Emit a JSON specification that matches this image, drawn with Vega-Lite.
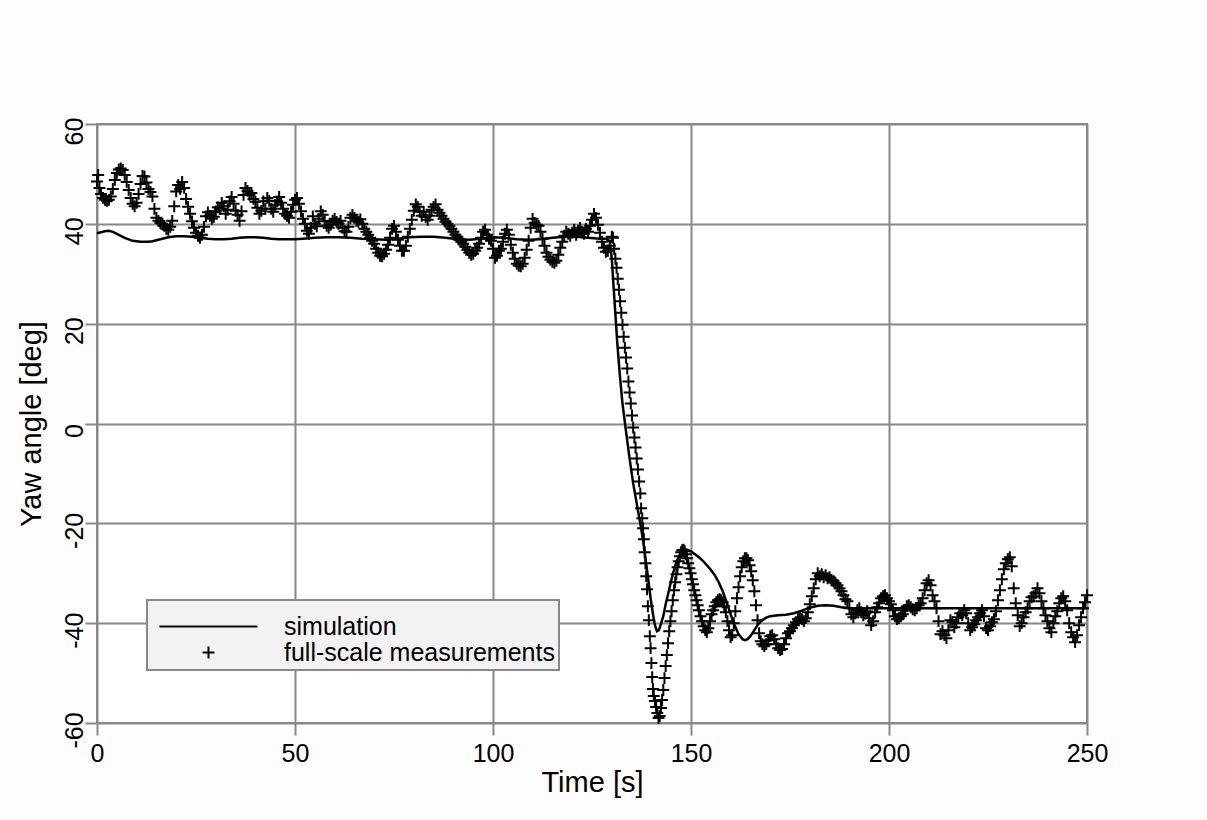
{
"$schema": "https://vega.github.io/schema/vega-lite/v6.json",
"width": 990, "height": 599,
"autosize": {"type": "none"},
"padding": {"left": 97, "top": 124, "right": 120, "bottom": 97},
"background": "#fdfdfd",
"config": {
 "view": {"fill": "white", "stroke": "#888", "strokeWidth": 2},
 "font": "Liberation Sans",
 "axis": {"grid": true, "gridColor": "#888", "gridWidth": 2, "gridOpacity": 1, "domain": false, "tickColor": "#888", "tickWidth": 2, "tickSize": 12, "labelFont": "Liberation Sans", "labelFontSize": 25, "labelColor": "black", "titleFont": "Liberation Sans", "titleFontSize": 29, "titleFontWeight": "normal", "titleColor": "black", "labelOverlap": false, "labelFlush": false, "labelExpr": "toString(datum.value)"},
 "legend": {"strokeWidth": 2}
},
"datasets": {
"sim": [
{"t":0,"v":38.1},{"t":1,"v":38.3},{"t":2,"v":38.5},{"t":3,"v":38.6},{"t":4,"v":38.4},{"t":5,"v":38.0},{"t":6,"v":37.6},{"t":7,"v":37.2},{"t":8,"v":36.9},{"t":9,"v":36.6},{"t":10,"v":36.5},{"t":11,"v":36.4},{"t":12,"v":36.4},{"t":13,"v":36.4},{"t":14,"v":36.5},{"t":15,"v":36.7},{"t":16,"v":36.9},{"t":17,"v":37.1},{"t":18,"v":37.3},{"t":19,"v":37.4},{"t":20,"v":37.5},{"t":22,"v":37.5},{"t":24,"v":37.4},{"t":26,"v":37.2},{"t":28,"v":37.0},{"t":30,"v":36.9},{"t":32,"v":36.9},{"t":34,"v":37.0},{"t":36,"v":37.2},{"t":38,"v":37.3},{"t":40,"v":37.3},{"t":42,"v":37.2},{"t":44,"v":37.0},{"t":46,"v":36.9},{"t":48,"v":36.9},{"t":50,"v":36.9},{"t":52,"v":37.0},{"t":55,"v":37.2},{"t":58,"v":37.3},{"t":61,"v":37.3},{"t":64,"v":37.2},{"t":67,"v":37.0},{"t":70,"v":36.9},{"t":73,"v":36.8},{"t":76,"v":37.0},{"t":79,"v":37.3},{"t":82,"v":37.4},{"t":85,"v":37.4},{"t":88,"v":37.2},{"t":91,"v":36.9},{"t":94,"v":36.8},{"t":97,"v":37.0},{"t":100,"v":37.3},{"t":103,"v":37.2},{"t":106,"v":36.9},{"t":109,"v":36.8},{"t":112,"v":36.9},{"t":115,"v":37.2},{"t":118,"v":37.4},{"t":121,"v":37.4},{"t":124,"v":37.2},{"t":127,"v":37.0},{"t":128.5,"v":37.0},{"t":129.5,"v":36.5},{"t":130.0,"v":33},{"t":130.4,"v":28},{"t":130.9,"v":22},{"t":131.4,"v":16},{"t":132.0,"v":10},{"t":132.7,"v":4},{"t":133.5,"v":-1},{"t":134.4,"v":-6.5},{"t":135.4,"v":-12},{"t":136.4,"v":-16.5},{"t":137.3,"v":-20.5},{"t":138.0,"v":-24},{"t":138.6,"v":-27.6},{"t":139.2,"v":-31.2},{"t":139.8,"v":-35},{"t":140.4,"v":-38.2},{"t":140.9,"v":-40.4},{"t":141.4,"v":-41.6},{"t":141.9,"v":-41.4},{"t":142.4,"v":-40.2},{"t":143.0,"v":-38.6},{"t":143.6,"v":-36.2},{"t":144.3,"v":-33.9},{"t":144.9,"v":-31.8},{"t":145.5,"v":-29.9},{"t":146.3,"v":-27.8},{"t":147.2,"v":-26.2},{"t":148.1,"v":-25.5},{"t":149.0,"v":-25.3},{"t":150.0,"v":-25.6},{"t":151.0,"v":-26.2},{"t":152.0,"v":-26.8},{"t":153.0,"v":-27.5},{"t":154.0,"v":-28.4},{"t":155.0,"v":-29.3},{"t":156.0,"v":-30.4},{"t":157.0,"v":-31.8},{"t":158.0,"v":-33.6},{"t":159.0,"v":-35.8},{"t":160.0,"v":-38.2},{"t":161.0,"v":-40.4},{"t":162.0,"v":-42.2},{"t":163.0,"v":-43.2},{"t":163.6,"v":-43.4},{"t":164.3,"v":-43.2},{"t":165.0,"v":-42.6},{"t":166.0,"v":-41.4},{"t":167.0,"v":-40.2},{"t":168.0,"v":-39.4},{"t":169.0,"v":-38.9},{"t":170.0,"v":-38.6},{"t":172.0,"v":-38.4},{"t":174.0,"v":-38.3},{"t":176.0,"v":-38.0},{"t":178.0,"v":-37.5},{"t":180.0,"v":-36.9},{"t":182.0,"v":-36.5},{"t":184.0,"v":-36.4},{"t":186.0,"v":-36.5},{"t":188.0,"v":-36.8},{"t":190.0,"v":-37.0},{"t":195.0,"v":-37.0},{"t":200.0,"v":-37.0},{"t":250.0,"v":-37.0}
],
"meas": [
{"t":0,"v":48.5},{"t":0.3,"v":49.8},{"t":0.6,"v":47.2},{"t":1.0,"v":46.0},{"t":1.5,"v":45.2},{"t":2.0,"v":44.8},{"t":2.5,"v":44.6},{"t":3.0,"v":44.8},{"t":3.5,"v":45.5},{"t":4.0,"v":47.0},{"t":4.5,"v":48.8},{"t":5.0,"v":50.2},{"t":5.5,"v":50.9},{"t":6.0,"v":51.1},{"t":6.5,"v":50.8},{"t":7.0,"v":49.8},{"t":7.5,"v":48.4},{"t":8.0,"v":46.8},{"t":8.5,"v":45.2},{"t":9.0,"v":44.0},{"t":9.5,"v":43.5},{"t":10.0,"v":44.2},{"t":10.5,"v":46.0},{"t":11.0,"v":48.0},{"t":11.5,"v":49.6},{"t":12.0,"v":49.5},{"t":12.5,"v":48.3},{"t":13.0,"v":47.0},{"t":13.5,"v":46.4},{"t":14.0,"v":45.5},{"t":14.5,"v":43.0},{"t":15.0,"v":41.2},{"t":15.5,"v":40.6},{"t":16.0,"v":40.2},{"t":16.5,"v":40.0},{"t":17.0,"v":39.6},{"t":17.5,"v":39.0},{"t":18.0,"v":38.8},{"t":18.5,"v":39.4},{"t":19.0,"v":40.6},{"t":19.5,"v":43.5},{"t":20.0,"v":46.5},{"t":20.5,"v":47.8},{"t":21.0,"v":47.0},{"t":21.5,"v":48.4},{"t":22.0,"v":47.2},{"t":22.5,"v":45.0},{"t":23.0,"v":43.4},{"t":23.5,"v":42.0},{"t":24.0,"v":40.5},{"t":24.5,"v":39.2},{"t":25.0,"v":38.2},{"t":25.5,"v":37.6},{"t":26.0,"v":37.2},{"t":26.5,"v":37.8},{"t":27.0,"v":39.4},{"t":27.5,"v":41.5},{"t":28.0,"v":42.3},{"t":28.5,"v":41.6},{"t":29.0,"v":41.0},{"t":29.5,"v":41.4},{"t":30.0,"v":42.5},{"t":30.5,"v":43.3},{"t":31.0,"v":43.0},{"t":31.5,"v":44.2},{"t":32.0,"v":43.5},{"t":32.5,"v":42.0},{"t":33.0,"v":42.8},{"t":33.5,"v":44.5},{"t":34.0,"v":45.4},{"t":34.5,"v":44.0},{"t":35.0,"v":42.6},{"t":35.5,"v":41.8},{"t":36.0,"v":40.6},{"t":36.5,"v":42.5},{"t":37.0,"v":45.8},{"t":37.5,"v":47.2},{"t":38.0,"v":46.6},{"t":38.5,"v":45.8},{"t":39.0,"v":46.2},{"t":39.5,"v":45.0},{"t":40.0,"v":44.4},{"t":40.5,"v":43.2},{"t":41.0,"v":42.0},{"t":41.5,"v":42.6},{"t":42.0,"v":44.5},{"t":42.5,"v":43.0},{"t":43.0,"v":45.2},{"t":43.5,"v":44.6},{"t":44.0,"v":43.0},{"t":44.5,"v":42.4},{"t":45.0,"v":43.8},{"t":45.5,"v":44.5},{"t":46.0,"v":45.4},{"t":46.5,"v":44.2},{"t":47.0,"v":43.0},{"t":47.5,"v":42.0},{"t":48.0,"v":41.6},{"t":48.5,"v":41.2},{"t":49.0,"v":42.4},{"t":49.5,"v":43.8},{"t":50.0,"v":44.8},{"t":50.5,"v":45.2},{"t":51.0,"v":44.0},{"t":51.5,"v":42.5},{"t":52.0,"v":41.0},{"t":52.5,"v":40.0},{"t":53.0,"v":38.6},{"t":53.5,"v":38.0},{"t":54.0,"v":39.2},{"t":54.5,"v":41.5},{"t":55.0,"v":40.0},{"t":55.5,"v":39.5},{"t":56.0,"v":41.0},{"t":56.5,"v":42.5},{"t":57.0,"v":41.8},{"t":57.5,"v":40.5},{"t":58.0,"v":39.6},{"t":58.5,"v":39.2},{"t":59.0,"v":39.8},{"t":59.5,"v":40.6},{"t":60.0,"v":41.0},{"t":60.5,"v":40.4},{"t":61.0,"v":40.0},{"t":61.5,"v":40.6},{"t":62.0,"v":39.2},{"t":62.5,"v":38.5},{"t":63.0,"v":38.4},{"t":63.5,"v":39.4},{"t":64.0,"v":41.2},{"t":64.5,"v":41.8},{"t":65.0,"v":41.2},{"t":65.5,"v":40.6},{"t":66.0,"v":40.4},{"t":66.5,"v":40.9},{"t":67.0,"v":40.0},{"t":67.5,"v":39.0},{"t":68.0,"v":38.4},{"t":68.5,"v":37.8},{"t":69.0,"v":37.2},{"t":69.5,"v":36.6},{"t":70.0,"v":36.0},{"t":70.5,"v":35.0},{"t":71.0,"v":34.2},{"t":71.5,"v":33.6},{"t":72.0,"v":33.5},{"t":72.5,"v":34.0},{"t":73.0,"v":34.8},{"t":73.5,"v":35.8},{"t":74.0,"v":37.2},{"t":74.5,"v":39.0},{"t":75.0,"v":39.6},{"t":75.5,"v":38.4},{"t":76.0,"v":36.8},{"t":76.5,"v":35.6},{"t":77.0,"v":34.6},{"t":77.5,"v":34.6},{"t":78.0,"v":35.6},{"t":78.5,"v":37.4},{"t":79.0,"v":39.0},{"t":79.5,"v":40.8},{"t":80.0,"v":42.6},{"t":80.5,"v":43.9},{"t":81.0,"v":43.4},{"t":81.5,"v":42.4},{"t":82.0,"v":41.6},{"t":82.5,"v":42.4},{"t":83.0,"v":41.4},{"t":83.5,"v":40.8},{"t":84.0,"v":41.6},{"t":84.5,"v":42.8},{"t":85.0,"v":43.4},{"t":85.5,"v":43.9},{"t":86.0,"v":42.8},{"t":86.5,"v":42.2},{"t":87.0,"v":41.6},{"t":87.5,"v":41.0},{"t":88.0,"v":40.4},{"t":88.5,"v":40.0},{"t":89.0,"v":39.6},{"t":89.5,"v":39.0},{"t":90.0,"v":38.4},{"t":90.5,"v":37.8},{"t":91.0,"v":37.4},{"t":91.5,"v":36.8},{"t":92.0,"v":36.4},{"t":92.5,"v":36.0},{"t":93.0,"v":35.4},{"t":93.5,"v":34.8},{"t":94.0,"v":34.2},{"t":94.5,"v":33.8},{"t":95.0,"v":34.0},{"t":95.5,"v":34.6},{"t":96.0,"v":35.2},{"t":96.5,"v":36.0},{"t":97.0,"v":37.2},{"t":97.5,"v":38.4},{"t":98.0,"v":38.8},{"t":98.5,"v":37.8},{"t":99.0,"v":37.0},{"t":99.5,"v":36.6},{"t":100.0,"v":35.0},{"t":100.5,"v":33.2},{"t":101.0,"v":33.6},{"t":101.5,"v":34.6},{"t":102.0,"v":35.0},{"t":102.5,"v":36.4},{"t":103.0,"v":38.0},{"t":103.5,"v":38.8},{"t":104.0,"v":37.8},{"t":104.5,"v":35.8},{"t":105.0,"v":34.2},{"t":105.5,"v":33.0},{"t":106.0,"v":32.0},{"t":106.5,"v":31.6},{"t":107.0,"v":31.5},{"t":107.5,"v":32.0},{"t":108.0,"v":33.2},{"t":108.5,"v":34.8},{"t":109.0,"v":36.6},{"t":109.5,"v":39.2},{"t":110.0,"v":41.0},{"t":110.5,"v":40.2},{"t":111.0,"v":39.8},{"t":111.5,"v":39.6},{"t":112.0,"v":38.4},{"t":112.5,"v":37.0},{"t":113.0,"v":35.6},{"t":113.5,"v":34.2},{"t":114.0,"v":33.4},{"t":114.5,"v":32.8},{"t":115.0,"v":32.4},{"t":115.5,"v":32.2},{"t":116.0,"v":32.6},{"t":116.5,"v":33.8},{"t":117.0,"v":35.2},{"t":117.5,"v":36.4},{"t":118.0,"v":37.6},{"t":118.5,"v":38.4},{"t":119.0,"v":38.0},{"t":119.5,"v":37.6},{"t":120.0,"v":38.2},{"t":120.5,"v":38.8},{"t":121.0,"v":37.8},{"t":121.5,"v":38.6},{"t":122.0,"v":39.2},{"t":122.5,"v":38.4},{"t":123.0,"v":38.0},{"t":123.5,"v":39.0},{"t":124.0,"v":38.4},{"t":124.5,"v":39.6},{"t":125.0,"v":40.8},{"t":125.5,"v":42.0},{"t":126.0,"v":41.2},{"t":126.5,"v":39.8},{"t":127.0,"v":38.2},{"t":127.5,"v":36.4},{"t":128.0,"v":35.2},{"t":128.5,"v":34.4},{"t":129.0,"v":34.6},{"t":129.5,"v":35.6},{"t":130.0,"v":37.4},{"t":130.3,"v":37.2},{"t":130.6,"v":35.0},{"t":130.9,"v":33.0},{"t":131.2,"v":31.2},{"t":131.5,"v":29.0},{"t":131.8,"v":26.8},{"t":132.1,"v":24.5},{"t":132.4,"v":22.2},{"t":132.7,"v":19.8},{"t":133.0,"v":17.4},{"t":133.3,"v":15.2},{"t":133.6,"v":13.2},{"t":133.9,"v":11.0},{"t":134.2,"v":8.4},{"t":134.5,"v":6.2},{"t":134.8,"v":4.0},{"t":135.1,"v":1.6},{"t":135.4,"v":-0.8},{"t":135.7,"v":-2.8},{"t":136.0,"v":-4.8},{"t":136.3,"v":-7.0},{"t":136.6,"v":-9.2},{"t":136.9,"v":-11.6},{"t":137.2,"v":-14.0},{"t":137.4,"v":-17.0},{"t":137.7,"v":-19.0},{"t":137.9,"v":-21.0},{"t":138.1,"v":-23.2},{"t":138.3,"v":-25.8},{"t":138.5,"v":-28.0},{"t":138.7,"v":-30.6},{"t":138.9,"v":-33.2},{"t":139.1,"v":-36.6},{"t":139.35,"v":-39.4},{"t":139.6,"v":-42.6},{"t":139.8,"v":-45.0},{"t":140.0,"v":-48.0},{"t":140.2,"v":-50.8},{"t":140.4,"v":-53.2},{"t":140.6,"v":-54.6},{"t":140.9,"v":-55.6},{"t":141.2,"v":-56.8},{"t":141.5,"v":-58.0},{"t":141.8,"v":-59.0},{"t":142.1,"v":-58.6},{"t":142.4,"v":-57.0},{"t":142.7,"v":-55.4},{"t":143.0,"v":-53.4},{"t":143.3,"v":-51.0},{"t":143.6,"v":-48.6},{"t":143.9,"v":-46.4},{"t":144.2,"v":-44.0},{"t":144.5,"v":-41.6},{"t":144.8,"v":-39.6},{"t":145.1,"v":-37.6},{"t":145.4,"v":-35.4},{"t":145.7,"v":-33.4},{"t":146.0,"v":-31.8},{"t":146.3,"v":-30.2},{"t":146.6,"v":-28.8},{"t":146.9,"v":-27.6},{"t":147.2,"v":-26.6},{"t":147.5,"v":-25.8},{"t":147.8,"v":-25.4},{"t":148.1,"v":-25.3},{"t":148.4,"v":-25.6},{"t":148.7,"v":-26.2},{"t":149.0,"v":-27.0},{"t":149.3,"v":-28.0},{"t":149.6,"v":-29.0},{"t":149.9,"v":-30.0},{"t":150.2,"v":-31.2},{"t":150.5,"v":-32.2},{"t":150.8,"v":-33.4},{"t":151.1,"v":-34.4},{"t":151.4,"v":-35.4},{"t":151.7,"v":-36.4},{"t":152.0,"v":-37.4},{"t":152.4,"v":-38.6},{"t":152.8,"v":-39.6},{"t":153.2,"v":-40.6},{"t":153.6,"v":-41.4},{"t":154.0,"v":-41.8},{"t":154.4,"v":-41.0},{"t":154.8,"v":-39.6},{"t":155.2,"v":-38.2},{"t":155.6,"v":-37.4},{"t":156.0,"v":-36.6},{"t":156.4,"v":-35.8},{"t":156.8,"v":-35.4},{"t":157.2,"v":-35.2},{"t":157.6,"v":-35.4},{"t":158.0,"v":-35.8},{"t":158.4,"v":-36.6},{"t":158.8,"v":-37.8},{"t":159.2,"v":-39.6},{"t":159.6,"v":-41.4},{"t":160.0,"v":-42.8},{"t":160.4,"v":-42.4},{"t":160.8,"v":-40.0},{"t":161.2,"v":-37.6},{"t":161.6,"v":-35.0},{"t":162.0,"v":-32.8},{"t":162.4,"v":-30.6},{"t":162.8,"v":-28.8},{"t":163.2,"v":-27.6},{"t":163.6,"v":-27.0},{"t":164.0,"v":-27.0},{"t":164.4,"v":-27.4},{"t":164.8,"v":-28.4},{"t":165.2,"v":-29.6},{"t":165.6,"v":-31.4},{"t":166.0,"v":-33.6},{"t":166.4,"v":-36.4},{"t":166.8,"v":-39.4},{"t":167.2,"v":-42.0},{"t":167.6,"v":-43.6},{"t":168.0,"v":-44.2},{"t":168.5,"v":-44.6},{"t":169.0,"v":-44.2},{"t":169.5,"v":-43.4},{"t":170.0,"v":-42.6},{"t":170.5,"v":-42.4},{"t":171.0,"v":-43.2},{"t":171.5,"v":-44.2},{"t":172.0,"v":-45.0},{"t":172.5,"v":-45.4},{"t":173.0,"v":-45.2},{"t":173.5,"v":-44.2},{"t":174.0,"v":-43.0},{"t":174.5,"v":-42.0},{"t":175.0,"v":-41.6},{"t":175.5,"v":-41.0},{"t":176.0,"v":-40.4},{"t":176.5,"v":-39.8},{"t":177.0,"v":-39.2},{"t":177.5,"v":-39.0},{"t":178.0,"v":-39.2},{"t":178.5,"v":-39.6},{"t":179.0,"v":-39.0},{"t":179.5,"v":-37.8},{"t":180.0,"v":-36.2},{"t":180.5,"v":-34.6},{"t":181.0,"v":-33.0},{"t":181.5,"v":-31.2},{"t":182.0,"v":-30.0},{"t":182.5,"v":-30.6},{"t":183.0,"v":-30.2},{"t":183.5,"v":-30.8},{"t":184.0,"v":-30.4},{"t":184.5,"v":-31.0},{"t":185.0,"v":-30.8},{"t":185.5,"v":-31.4},{"t":186.0,"v":-31.6},{"t":186.5,"v":-32.0},{"t":187.0,"v":-32.4},{"t":187.5,"v":-33.0},{"t":188.0,"v":-33.6},{"t":188.5,"v":-34.4},{"t":189.0,"v":-35.2},{"t":189.5,"v":-35.6},{"t":190.0,"v":-37.0},{"t":190.5,"v":-38.2},{"t":191.0,"v":-38.8},{"t":191.5,"v":-38.0},{"t":192.0,"v":-37.4},{"t":192.5,"v":-37.0},{"t":193.0,"v":-37.8},{"t":193.5,"v":-38.4},{"t":194.0,"v":-38.0},{"t":194.5,"v":-37.6},{"t":195.0,"v":-39.0},{"t":195.5,"v":-40.4},{"t":196.0,"v":-39.6},{"t":196.5,"v":-37.8},{"t":197.0,"v":-36.8},{"t":197.5,"v":-36.0},{"t":198.0,"v":-35.0},{"t":198.5,"v":-34.6},{"t":199.0,"v":-34.4},{"t":199.5,"v":-35.0},{"t":200.0,"v":-35.6},{"t":200.5,"v":-36.2},{"t":201.0,"v":-37.4},{"t":201.5,"v":-38.6},{"t":202.0,"v":-39.2},{"t":202.5,"v":-39.0},{"t":203.0,"v":-38.6},{"t":203.5,"v":-38.2},{"t":204.0,"v":-37.4},{"t":204.5,"v":-36.6},{"t":205.0,"v":-36.4},{"t":205.5,"v":-36.8},{"t":206.0,"v":-37.2},{"t":206.5,"v":-37.4},{"t":207.0,"v":-37.0},{"t":207.5,"v":-36.4},{"t":208.0,"v":-36.0},{"t":208.5,"v":-35.0},{"t":209.0,"v":-33.4},{"t":209.5,"v":-32.0},{"t":210.0,"v":-31.4},{"t":210.5,"v":-32.4},{"t":211.0,"v":-34.4},{"t":211.5,"v":-35.6},{"t":212.0,"v":-37.0},{"t":212.5,"v":-39.6},{"t":213.0,"v":-42.2},{"t":213.5,"v":-41.6},{"t":214.0,"v":-42.4},{"t":214.5,"v":-43.0},{"t":215.0,"v":-41.4},{"t":215.5,"v":-39.4},{"t":216.0,"v":-39.8},{"t":216.5,"v":-40.8},{"t":217.0,"v":-40.0},{"t":217.5,"v":-38.8},{"t":218.0,"v":-38.0},{"t":218.5,"v":-38.4},{"t":219.0,"v":-37.4},{"t":219.5,"v":-38.0},{"t":220.0,"v":-40.0},{"t":220.5,"v":-41.4},{"t":221.0,"v":-40.8},{"t":221.5,"v":-40.2},{"t":222.0,"v":-39.4},{"t":222.5,"v":-38.8},{"t":223.0,"v":-38.0},{"t":223.5,"v":-37.4},{"t":224.0,"v":-38.6},{"t":224.5,"v":-41.0},{"t":225.0,"v":-41.4},{"t":225.5,"v":-40.6},{"t":226.0,"v":-39.8},{"t":226.5,"v":-39.2},{"t":227.0,"v":-37.6},{"t":227.5,"v":-35.4},{"t":228.0,"v":-33.4},{"t":228.5,"v":-31.2},{"t":229.0,"v":-29.2},{"t":229.5,"v":-28.0},{"t":230.0,"v":-27.2},{"t":230.5,"v":-26.8},{"t":231.0,"v":-28.6},{"t":231.5,"v":-33.0},{"t":232.0,"v":-36.0},{"t":232.5,"v":-38.4},{"t":233.0,"v":-40.6},{"t":233.5,"v":-40.0},{"t":234.0,"v":-38.8},{"t":234.5,"v":-37.8},{"t":235.0,"v":-37.0},{"t":235.5,"v":-35.6},{"t":236.0,"v":-34.8},{"t":236.5,"v":-34.6},{"t":237.0,"v":-34.0},{"t":237.5,"v":-33.0},{"t":238.0,"v":-34.0},{"t":238.5,"v":-35.6},{"t":239.0,"v":-37.0},{"t":239.5,"v":-38.4},{"t":240.0,"v":-39.6},{"t":240.5,"v":-41.0},{"t":241.0,"v":-41.8},{"t":241.5,"v":-40.0},{"t":242.0,"v":-38.6},{"t":242.5,"v":-37.6},{"t":243.0,"v":-36.0},{"t":243.5,"v":-35.0},{"t":244.0,"v":-34.6},{"t":244.5,"v":-35.6},{"t":245.0,"v":-37.4},{"t":245.5,"v":-40.0},{"t":246.0,"v":-41.8},{"t":246.5,"v":-42.8},{"t":247.0,"v":-43.8},{"t":247.5,"v":-42.4},{"t":248.0,"v":-40.4},{"t":248.5,"v":-38.8},{"t":249.0,"v":-37.0},{"t":249.5,"v":-35.8},{"t":250.0,"v":-34.4}
]
},
"encoding": {
 "x": {"field": "t", "type": "quantitative", "scale": {"domain": [0, 250], "nice": false, "zero": false}, "axis": {"values": [0, 50, 100, 150, 200, 250], "title": "Time [s]", "labelPadding": 6, "titlePadding": 2}},
 "y": {"field": "v", "type": "quantitative", "scale": {"domain": [-60, 60], "nice": false, "zero": false}, "axis": {"values": [-60, -40, -20, 0, 20, 40, 60], "title": "Yaw angle [deg]", "labelAngle": -90, "labelAlign": "center", "labelBaseline": "alphabetic", "labelPadding": 3, "labelOffset": 7, "titlePadding": 16}}
},
"layer": [
 {"data": {"name": "sim"}, "mark": {"type": "line", "color": "black", "strokeWidth": 2.5}},
 {"data": {"name": "meas"}, "mark": {"type": "point", "filled": false, "stroke": "black", "strokeWidth": 2, "size": 196, "opacity": 1},
  "encoding": {"shape": {"datum": "full-scale measurements", "type": "nominal",
    "scale": {"domain": ["simulation", "full-scale measurements"], "range": ["M-7,0H7", "M-0.85,0H0.85M0,-0.85V0.85"]},
    "legend": {"title": " ", "titleFontSize": 10, "titlePadding": 0, "orient": "none", "legendX": 50, "legendY": 476, "direction": "vertical", "padding": 4, "fillColor": "#f2f2f2", "strokeColor": "#888", "labelFont": "Liberation Sans", "labelFontSize": 25, "labelColor": "black", "labelLimit": 500, "labelOffset": 63, "symbolOffset": 45, "symbolSize": 196, "symbolStrokeColor": "black", "symbolStrokeWidth": 2, "symbolFillColor": "transparent", "rowPadding": -2}}}}
]
}
